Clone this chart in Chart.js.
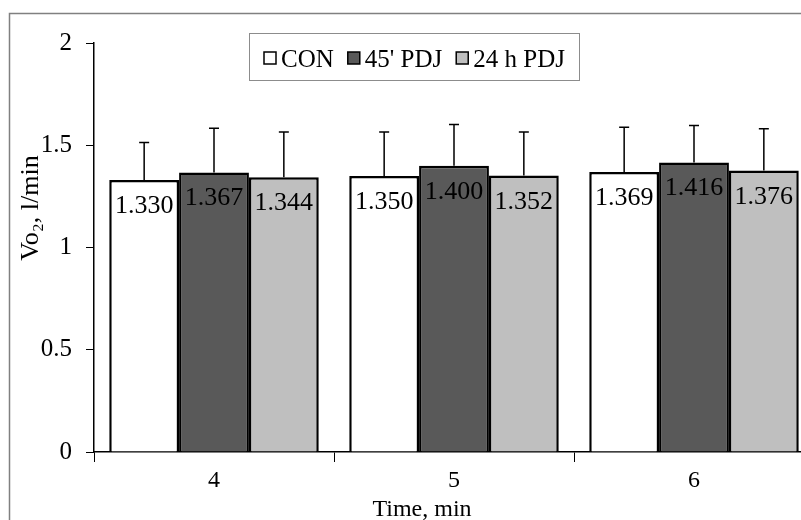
<!DOCTYPE html>
<html>
<head>
<meta charset="utf-8">
<script src="https://cdn.jsdelivr.net/npm/chart.js@4"></script>
<style>
  html, body { margin: 0; padding: 0; background: #fff; overflow: hidden; }
  #wrap { position: relative; width: 816px; height: 520px; }
</style>
</head>
<body>
<div id="wrap"><canvas id="myChart" width="816" height="520"></canvas></div>
<script>
// values
const categories = ['4', '5', '6'];
const seriesNames = ['CON', "45' PDJ", '24 h PDJ'];
const conMean = [1.330, 1.350, 1.369];
const pdj45Mean = [1.367, 1.400, 1.416];
const pdj24Mean = [1.344, 1.352, 1.376];
const conSD = [0.184, 0.215, 0.219];
const pdj45SD = [0.216, 0.202, 0.180];
const pdj24SD = [0.221, 0.213, 0.205];
const yTicks = [0, 0.5, 1, 1.5, 2];

const serif = "'Liberation Serif', 'Times New Roman', serif";

let datasets = [
	{ label: seriesNames[0], data: conMean, sd: conSD, backgroundColor: '#ffffff' },
	{ label: seriesNames[1], data: pdj45Mean, sd: pdj45SD, backgroundColor: '#595959' },
	{ label: seriesNames[2], data: pdj24Mean, sd: pdj24SD, backgroundColor: '#bfbfbf' }
];
datasets.forEach(d => {
	d.borderColor = '#000';
	d.borderWidth = 2.5;
	d.barPercentage = 1;
	d.categoryPercentage = 0.873;
});

// frame, error bars, value labels, legend and axis titles
const extras = {
	id: 'extras',
	afterDatasetsDraw(chart) {
		const ctx = chart.ctx;
		const y = chart.scales.y;
		ctx.save();
		// error bars
		ctx.strokeStyle = '#000';
		ctx.lineWidth = 1.5;
		chart.data.datasets.forEach((ds, i) => {
			chart.getDatasetMeta(i).data.forEach((bar, j) => {
				const top = y.getPixelForValue(ds.data[j] + ds.sd[j]);
				ctx.beginPath();
				ctx.moveTo(bar.x, bar.y);
				ctx.lineTo(bar.x, top);
				ctx.moveTo(bar.x - 5, top);
				ctx.lineTo(bar.x + 5, top);
				ctx.stroke();
			});
		});
		// value labels
		ctx.fillStyle = '#000';
		ctx.font = '26px ' + serif;
		ctx.textAlign = 'center';
		ctx.textBaseline = 'alphabetic';
		chart.data.datasets.forEach((ds, i) => {
			chart.getDatasetMeta(i).data.forEach((bar, j) => {
				ctx.fillText(ds.data[j].toFixed(3), bar.x, bar.y + 33);
			});
		});
		ctx.restore();
	},
	afterDraw(chart) {
		const ctx = chart.ctx;
		ctx.save();
		// outer frame
		ctx.strokeStyle = '#808080';
		ctx.lineWidth = 1.5;
		ctx.strokeRect(9.5, 13.5, 900, 600);
		// legend
		ctx.font = '25px ' + serif;
		ctx.textBaseline = 'alphabetic';
		ctx.textAlign = 'left';
		let x = 264;
		chart.data.datasets.forEach(ds => {
			ctx.fillStyle = ds.backgroundColor;
			ctx.fillRect(x, 52, 12, 12);
			ctx.strokeStyle = '#000';
			ctx.lineWidth = 1.5;
			ctx.strokeRect(x, 52, 12, 12);
			ctx.fillStyle = '#000';
			ctx.fillText(ds.label, x + 17, 67);
			x += 17 + ctx.measureText(ds.label).width + 14;
		});
		ctx.strokeStyle = '#8c8c8c';
		ctx.lineWidth = 1;
		ctx.strokeRect(249.5, 33.5, 330, 47);
		// axis titles
		ctx.font = '24px ' + serif;
		ctx.textAlign = 'center';
		ctx.fillText('Time, min', 422, 516);
		ctx.font = '26px ' + serif;
		ctx.translate(38, 208);
		ctx.rotate(-Math.PI / 2);
		ctx.fillText('Vo\u2082, l/min', 0, 0);
		ctx.restore();
	}
};

function drawChart() {
	let config = {
		type: 'bar',
		data: {
			labels: categories,
			datasets: datasets
		},
		options: {
			responsive: false,
			animation: false,
			layout: { padding: { top: 43, right: 2, left: 0, bottom: 0 } },
			plugins: {
				legend: { display: false },
				tooltip: { enabled: false }
			},
			scales: {
				x: {
					grid: { offset: true, drawOnChartArea: false, tickLength: 10, color: '#000', lineWidth: 1 },
					border: { display: true, color: '#000', width: 1.5 },
					ticks: { color: '#000', padding: 4, font: { family: serif, size: 24 } },
					afterFit: s => { s.height = 68; }
				},
				y: {
					min: 0,
					max: 2,
					afterBuildTicks: s => { s.ticks = yTicks.map(v => ({ value: v })); },
					grid: { drawOnChartArea: false, tickLength: 8, color: '#000', lineWidth: 1 },
					border: { display: true, color: '#000', width: 1.5 },
					ticks: { color: '#000', padding: 14, font: { family: serif, size: 25 }, callback: v => String(v) },
					afterFit: s => { s.width = 94; }
				}
			}
		},
		plugins: [extras]
	};
	new Chart(document.getElementById('myChart'), config);
}

drawChart();
</script>
</body>
</html>
